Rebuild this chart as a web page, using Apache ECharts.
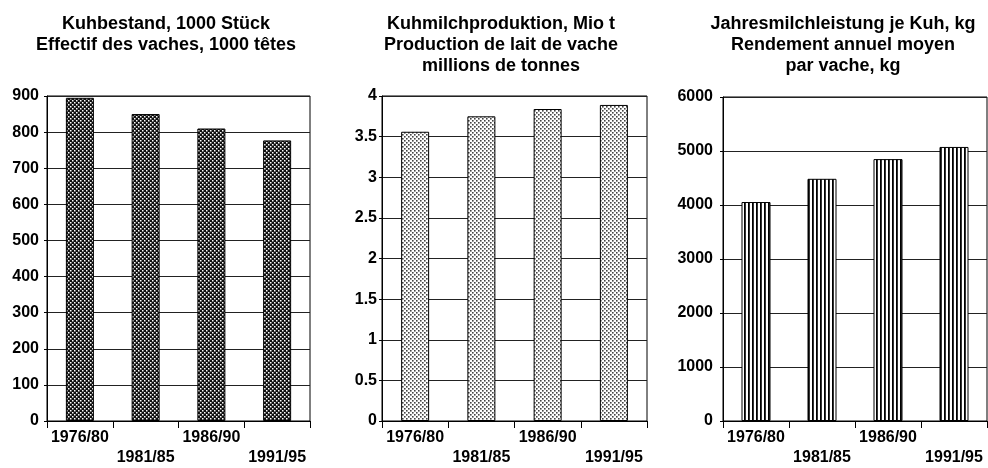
<!DOCTYPE html>
<html>
<head>
<meta charset="utf-8">
<script src="https://cdn.jsdelivr.net/npm/echarts@6/dist/echarts.min.js"></script>
<style>
  html, body { margin: 0; padding: 0; background: #fff; }
  #chart { width: 988px; height: 468px; }
</style>
</head>
<body>
<div id="chart"></div>
<script>
// Perioden
const periods = ["1976/80", "1981/85", "1986/90", "1991/95"];

// Kuhbestand, 1000 Stück
const cows = [895, 850, 810, 777];
// Kuhmilchproduktion, Mio t
const milk = [3.56, 3.75, 3.84, 3.89];
// Jahresmilchleistung je Kuh, kg
const yieldPerCow = [4055, 4485, 4850, 5075];

const titles = [
  "Kuhbestand, 1000 Stück\nEffectif des vaches, 1000 têtes",
  "Kuhmilchproduktion, Mio t\nProduction de lait de vache\nmillions de tonnes",
  "Jahresmilchleistung je Kuh, kg\nRendement annuel moyen\npar vache, kg"
];

// Schraffuren (Raster wie im Druck)
function makePattern(kind) {
  const c = document.createElement("canvas");
  const ctx = c.getContext("2d");
  c.width = 4; c.height = 4;
  if (kind === "dark") {
    ctx.fillStyle = "#111"; ctx.fillRect(0, 0, 4, 4);
    ctx.fillStyle = "#fff";
    ctx.fillRect(0, 0, 1.5, 1.5);
    ctx.fillRect(2, 2, 1.5, 1.5);
  } else if (kind === "light") {
    ctx.fillStyle = "#fff"; ctx.fillRect(0, 0, 4, 4);
    ctx.fillStyle = "#444";
    ctx.fillRect(0, 0, 1.6, 1.6);
    ctx.fillRect(2, 2, 1.6, 1.6);
  } else {
    ctx.fillStyle = "#fff"; ctx.fillRect(0, 0, 4, 4);
    ctx.fillStyle = "#000"; ctx.fillRect(0, 0, 1.8, 4);
  }
  return { image: c, repeat: "repeat" };
}

const font = "'Liberation Sans', Arial, sans-serif";

const grids = [
  { left: 47, top: 96, width: 263, height: 328 },
  { left: 382, top: 96, width: 265, height: 329 },
  { left: 723, top: 97, width: 264, height: 326 }
];
const yCfg = [
  { max: 900, interval: 100, margin: 8 },
  { max: 4, interval: 0.5, margin: 5 },
  { max: 6000, interval: 1000, margin: 10 }
];
const titleX = [161, 496, 838];
const dataSets = [cows, milk, yieldPerCow];
const patterns = ["dark", "light", "stripes"];

const option = {
  animation: false,
  backgroundColor: "#fff",
  title: titles.map((t, i) => ({
    text: t,
    left: titleX[i],
    top: 9,
    textAlign: "center",
    textStyle: {
      fontFamily: font, fontSize: 18, fontWeight: "bold",
      color: "#000", lineHeight: 21, align: "center"
    }
  })),
  grid: grids.map(g => Object.assign({
    show: true, borderColor: "#000", borderWidth: 1,
    backgroundColor: "transparent", containLabel: false
  }, g)),
  xAxis: grids.map((g, i) => ({
    type: "category",
    gridIndex: i,
    data: periods,
    axisLine: { lineStyle: { color: "#000", width: 1 } },
    axisTick: { show: true, length: 7, lineStyle: { color: "#000" } },
    axisLabel: {
      interval: 0, margin: 7, color: "#000",
      fontFamily: font, fontSize: 16, fontWeight: "bold", lineHeight: 20,
      formatter: (v, idx) => (idx % 2 === 1 ? "\n" + v : v)
    }
  })),
  yAxis: grids.map((g, i) => ({
    type: "value",
    gridIndex: i,
    min: 0,
    max: yCfg[i].max,
    interval: yCfg[i].interval,
    axisLine: { show: true, lineStyle: { color: "#000" } },
    axisTick: { show: true, length: 3, lineStyle: { color: "#000" } },
    splitLine: { lineStyle: { color: "#222", width: 1 } },
    axisLabel: {
      margin: yCfg[i].margin, color: "#000",
      fontFamily: font, fontSize: 16, fontWeight: "bold",
      formatter: v => String(v)
    }
  })),
  series: dataSets.map((d, i) => ({
    type: "bar",
    xAxisIndex: i,
    yAxisIndex: i,
    data: d,
    barWidth: i === 2 ? 29 : 28,
    itemStyle: {
      color: makePattern(patterns[i]),
      borderColor: "#000",
      borderWidth: 1
    }
  }))
};

const chart = echarts.init(document.getElementById("chart"), null, { renderer: "canvas" });
chart.setOption(option);
</script>
</body>
</html>
